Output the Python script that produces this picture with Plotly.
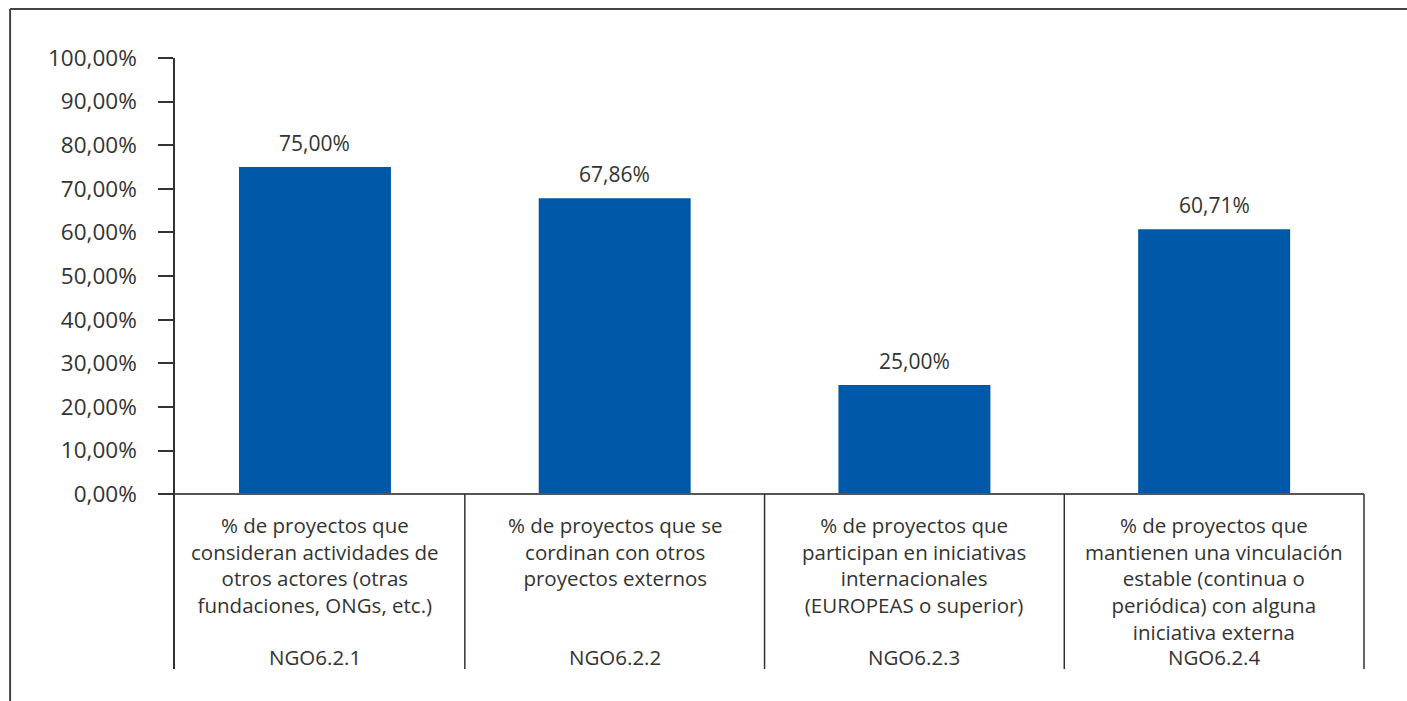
import plotly.graph_objects as go

# Indicator values (% of projects)
codes = ["NGO6.2.1", "NGO6.2.2", "NGO6.2.3", "NGO6.2.4"]
descriptions = [
    "% de proyectos que<br>consideran actividades de<br>otros actores (otras<br>fundaciones, ONGs, etc.)",
    "% de proyectos que se<br>cordinan con otros<br>proyectos externos",
    "% de proyectos que<br>participan en iniciativas<br>internacionales<br>(EUROPEAS o superior)",
    "% de proyectos que<br>mantienen una vinculación<br>estable (continua o<br>periódica) con alguna<br>iniciativa externa",
]
values = [75.00, 67.86, 25.00, 60.71]
y_ticks = [0, 10, 20, 30, 40, 50, 60, 70, 80, 90, 100]

BAR_COLOR = "#0059A8"
TEXT_COLOR = "#333333"
LINE_COLOR = "#333333"
FONT = "Open Sans"

positions = list(range(len(values)))
x_min, x_max = -0.467, 3.52
y_min, y_max = -40.1, 100


def fmt(v):
    return f"{v:.2f}".replace(".", ",") + "%"


fig = go.Figure()
fig.add_trace(go.Bar(
    x=positions,
    y=values,
    width=0.507,
    marker=dict(color=BAR_COLOR, line=dict(width=0)),
    hoverinfo="skip",
))

annotations = []
# value labels above the bars
for p, v in zip(positions, values):
    annotations.append(dict(
        x=p, y=v, xref="x", yref="y", text=fmt(v), showarrow=False,
        yanchor="middle", yshift=24,
        font=dict(family=FONT, size=21, color=TEXT_COLOR),
    ))
# category descriptions and indicator codes under the axis
for p, d, c in zip(positions, descriptions, codes):
    annotations.append(dict(
        x=p, y=-3.4, xref="x", yref="y", text=d, showarrow=False,
        yanchor="top", align="center",
        font=dict(family=FONT, size=20.5, color=TEXT_COLOR),
    ))
    annotations.append(dict(
        x=p, y=-37.3, xref="x", yref="y", text=c, showarrow=False,
        yanchor="middle", align="center",
        font=dict(family=FONT, size=20.5, color=TEXT_COLOR),
    ))

shapes = []
# baseline at 0 %
shapes.append(dict(type="line", xref="x", yref="y", x0=x_min, x1=3.5, y0=0, y1=0,
                   line=dict(color="#555555", width=2)))
# vertical separators of the category table
for b in [0.5, 1.5, 2.5, 3.5]:
    shapes.append(dict(type="line", xref="x", yref="y", x0=b, x1=b, y0=0, y1=y_min,
                       line=dict(color=LINE_COLOR, width=1.5)))
# outer frame: top and left edges
shapes.append(dict(type="line", xref="paper", yref="paper", x0=-0.138, x1=1.04,
                   y0=1.0802, y1=1.0802, line=dict(color="#444444", width=2)))
shapes.append(dict(type="line", xref="paper", yref="paper", x0=-0.138, x1=-0.138,
                   y0=1.0802, y1=-0.06, line=dict(color="#444444", width=2)))

fig.update_layout(
    width=1407, height=701,
    margin=dict(l=175, r=37, t=58, b=32),
    paper_bgcolor="white", plot_bgcolor="white",
    showlegend=False,
    annotations=annotations,
    shapes=shapes,
    font=dict(family=FONT, color=TEXT_COLOR),
    xaxis=dict(range=[x_min, x_max], showticklabels=False, showgrid=False,
               zeroline=False, showline=False, ticks=""),
    yaxis=dict(range=[y_min, y_max], tickmode="array", tickvals=y_ticks,
               ticktext=[fmt(t) for t in y_ticks],
               showgrid=False, zeroline=False, showline=True, linecolor=LINE_COLOR,
               linewidth=1.5, ticks="outside", ticklen=15, tickwidth=1.5,
               tickcolor=LINE_COLOR, ticklabelstandoff=17,
               tickfont=dict(family=FONT, size=22.5, color=TEXT_COLOR)),
)

fig.write_html("out.html")
